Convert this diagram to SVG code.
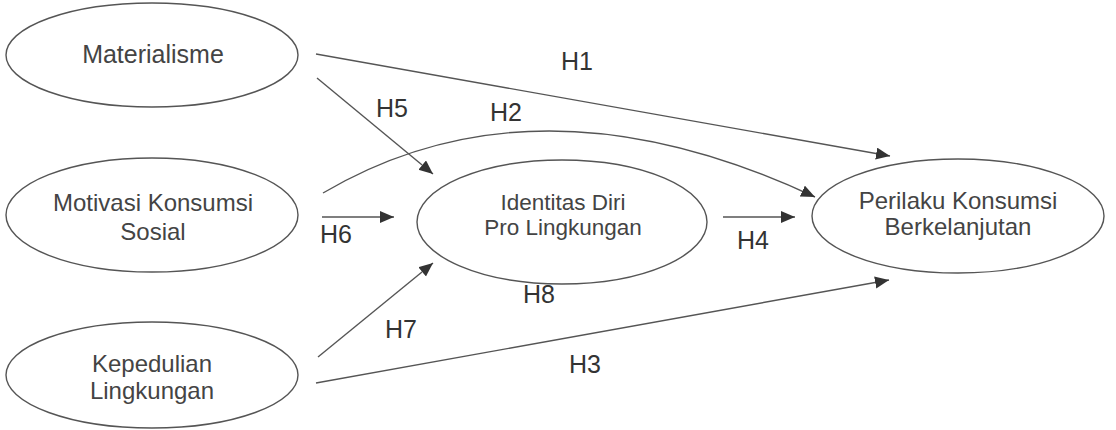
<svg xmlns="http://www.w3.org/2000/svg" width="1116" height="430" viewBox="0 0 1116 430">
<style>
.node{fill:#fff;stroke:#555;stroke-width:1.4}
.t{font-family:"Liberation Sans",Arial,sans-serif;font-size:24px;fill:#444;text-anchor:middle}
.ti{font-family:"Liberation Sans",Arial,sans-serif;font-size:22.5px;fill:#444;text-anchor:middle}
.lb{font-family:"Liberation Sans",Arial,sans-serif;font-size:25px;fill:#333}
.c{fill:none;stroke:#555;stroke-width:1.4;marker-end:url(#ah)}
</style>
<defs>
<marker id="ah" markerUnits="userSpaceOnUse" markerWidth="15" markerHeight="13" refX="14" refY="6" orient="auto">
<path d="M0,0 L14,6 L0,12 z" fill="#333"/>
</marker>
</defs>
<rect width="1116" height="430" fill="#fff"/>
<g id="connectors">
<line class="c" x1="316" y1="54" x2="890" y2="156"/>
<line class="c" x1="317" y1="78" x2="433" y2="174"/>
<path class="c" d="M323,193 Q537,67 815,197"/>
<line class="c" x1="322" y1="217" x2="394" y2="217"/>
<line class="c" x1="723" y1="217" x2="795" y2="217"/>
<line class="c" x1="318" y1="357" x2="433" y2="263"/>
<line class="c" x1="316" y1="383" x2="889" y2="280"/>
</g>
<g id="labels">
<text class="lb" x="561" y="70">H1</text>
<text class="lb" x="376" y="117">H5</text>
<text class="lb" x="490" y="121">H2</text>
<text class="lb" x="320" y="243">H6</text>
<text class="lb" x="737" y="249">H4</text>
<text class="lb" x="523" y="303">H8</text>
<text class="lb" x="385" y="338">H7</text>
<text class="lb" x="569" y="373">H3</text>
</g>
<g id="materialisme">
<ellipse class="node" cx="152" cy="55" rx="146" ry="52"/>
<text class="t" x="153" y="63" style="font-size:25px">Materialisme</text>
</g>
<g id="motivasi">
<ellipse class="node" cx="152" cy="215" rx="146" ry="57"/>
<text class="t" x="153" y="211">Motivasi Konsumsi</text>
<text class="t" x="153" y="240">Sosial</text>
</g>
<g id="kepedulian">
<ellipse class="node" cx="152" cy="375" rx="146" ry="53"/>
<text class="t" x="152" y="372">Kepedulian</text>
<text class="t" x="152" y="399">Lingkungan</text>
</g>
<g id="identitas">
<ellipse class="node" cx="562" cy="222" rx="145" ry="62"/>
<text class="ti" x="563" y="210">Identitas Diri</text>
<text class="ti" x="563" y="235">Pro Lingkungan</text>
</g>
<g id="perilaku">
<ellipse class="node" cx="958" cy="216" rx="146" ry="57"/>
<text class="t" x="958" y="209">Perilaku Konsumsi</text>
<text class="t" x="958" y="235">Berkelanjutan</text>
</g>
</svg>
